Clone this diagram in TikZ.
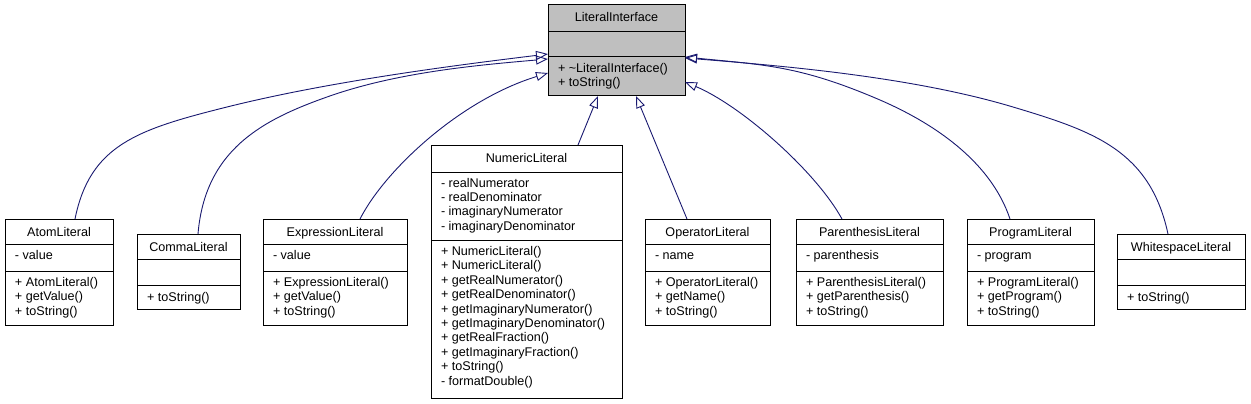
\documentclass[tikz,border=0pt]{standalone}
\usepackage{fontspec}
\setmainfont{Liberation Sans}
\usetikzlibrary{arrows.meta,calc}
\definecolor{edgeblue}{HTML}{191970}
\definecolor{ifill}{HTML}{BFBFBF}
\newcommand\umlfont{\fontsize{12.6}{14.4}\selectfont}
\tikzset{
  cbox/.style={draw=black, line width=1pt, fill=white, inner sep=0pt, outer sep=0pt},
  cline/.style={draw=black, line width=1pt},
  ctxt/.style={font=\umlfont, inner sep=0pt, outer sep=0pt, text=black},
  clist/.style={ctxt, align=left, anchor=north west, execute at begin node=\strut},
  inh/.style={draw=edgeblue, line width=0.9pt, -{Triangle[open, length=12pt, width=9pt, line width=0.9pt]}},
}
% name, left, right, top, sep1, sep2, bottom
\newcommand\classbox[7]{%
  \def\cbL{#2}\def\cbR{#3}\def\cbT{#4}\def\cbA{#5}\def\cbM{#6}%
  \node[cbox, minimum width={(#3-#2)*1pt}, minimum height={(#7-#4)*1pt}, anchor=north west] (#1) at (#2,#4) {};
  \draw[cline] (#2,#5) -- (#3,#5);
  \draw[cline] (#2,#6) -- (#3,#6);
}
\newcommand\ctitle[2]{\node[ctxt, anchor=base] (#1-title) at ({(\cbL+\cbR)/2},{\cbT+17}) {#2};}
\newcommand\cattrs[2]{\node[clist] (#1-attrs) at ({\cbL+10},{\cbA+5.9}) {#2};}
\newcommand\cmeths[2]{\node[clist] (#1-meths) at ({\cbL+10},{\cbM+6.4}) {#2};}
\begin{document}
\begin{tikzpicture}[x=1pt,y=-1pt]
\useasboundingbox (0,0) rectangle (1251,404);
\fill[white] (0,0) rectangle (1251,404);

% LiteralInterface
\classbox{li}{548}{685}{5}{32}{57}{96}
\path[fill=ifill, draw=black, line width=1pt] (li.north west) rectangle (li.south east);
\draw[cline] (548,32) -- (685,32);
\draw[cline] (548,57) -- (685,57);
\ctitle{li}{LiteralInterface}
\cmeths{li}{+ \textasciitilde LiteralInterface()\\+ toString()}

% AtomLiteral
\classbox{atom}{5}{113}{219}{244}{271}{325}
\ctitle{atom}{AtomLiteral}
\cattrs{atom}{- value}
\cmeths{atom}{+ AtomLiteral()\\+ getValue()\\+ toString()}

% CommaLiteral
\classbox{comma}{137}{240}{234}{259}{285}{309}
\ctitle{comma}{CommaLiteral}
\cmeths{comma}{+ toString()}

% ExpressionLiteral
\classbox{expr}{263}{407}{219}{244}{271}{325}
\ctitle{expr}{ExpressionLiteral}
\cattrs{expr}{- value}
\cmeths{expr}{+ ExpressionLiteral()\\+ getValue()\\+ toString()}

% NumericLiteral
\classbox{num}{431}{622}{145}{172}{240}{398}
\ctitle{num}{NumericLiteral}
\cattrs{num}{- realNumerator\\- realDenominator\\- imaginaryNumerator\\- imaginaryDenominator}
\cmeths{num}{+ NumericLiteral()\\+ NumericLiteral()\\+ getRealNumerator()\\+ getRealDenominator()\\+ getImaginaryNumerator()\\+ getImaginaryDenominator()\\+ getRealFraction()\\+ getImaginaryFraction()\\+ toString()\\- formatDouble()}

% OperatorLiteral
\classbox{op}{645}{770}{219}{244}{271}{325}
\ctitle{op}{OperatorLiteral}
\cattrs{op}{- name}
\cmeths{op}{+ OperatorLiteral()\\+ getName()\\+ toString()}

% ParenthesisLiteral
\classbox{par}{796}{943}{219}{244}{271}{325}
\ctitle{par}{ParenthesisLiteral}
\cattrs{par}{- parenthesis}
\cmeths{par}{+ ParenthesisLiteral()\\+ getParenthesis()\\+ toString()}

% ProgramLiteral
\classbox{prog}{967}{1094}{219}{244}{271}{325}
\ctitle{prog}{ProgramLiteral}
\cattrs{prog}{- program}
\cmeths{prog}{+ ProgramLiteral()\\+ getProgram()\\+ toString()}

% WhitespaceLiteral
\classbox{ws}{1117}{1245}{234}{259}{285}{309}
\ctitle{ws}{WhitespaceLiteral}
\cmeths{ws}{+ toString()}

% inheritance edges
\draw[inh] ($(atom.north west)+(70,0)$) .. controls (90,145) and (137,129.5) .. (227,107)
  .. controls (327,82) and (449,66) .. ($(li.north west)+(0,49)$);
\draw[inh] ($(comma.north west)+(61,0)$) .. controls (205,150) and (262,120) .. (327,97)
  .. controls (397,72) and (479,65) .. ($(li.north west)+(0,54)$);
\draw[inh] ($(expr.north west)+(97,0)$) .. controls (385,170) and (460,100) .. ($(li.north west)+(0,68)$);
\draw[inh] ($(num.north west)+(147,0)$) -- ($(li.south west)+(50,0)$);
\draw[inh] ($(op.north west)+(42,0)$) -- ($(li.south west)+(88,0)$);
\draw[inh] ($(par.north west)+(46,0)$) .. controls (815,170) and (740,105) .. ($(li.north east)+(0,77)$);
\draw[inh] ($(prog.north west)+(43,0)$) .. controls (992,165) and (940,126) .. (880,100)
  .. controls (800,65.6) and (765,65) .. ($(li.north east)+(0,52)$);
\draw[inh] ($(ws.north west)+(51,0)$) .. controls (1150,150) and (1093,131) .. (1013,107)
  .. controls (913,77) and (785,66) .. ($(li.north east)+(0,53)$);
\end{tikzpicture}
\end{document}
